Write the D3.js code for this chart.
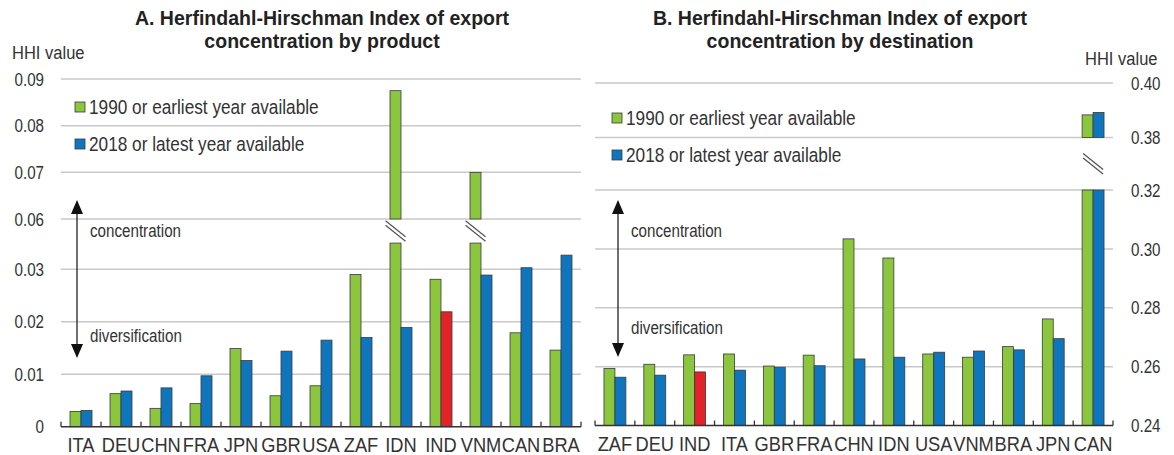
<!DOCTYPE html>
<html>
<head>
<meta charset="utf-8">
<script src="https://cdn.jsdelivr.net/npm/d3@7"></script>
<style>
  body { margin: 0; background: #fff; }
  svg { display: block; font-family: "Liberation Sans", Arial, sans-serif; }
</style>
</head>
<body>
<svg id="chart" width="1174" height="455"></svg>
<script>
// panel A: by product
var catsA = ["ITA", "DEU", "CHN", "FRA", "JPN", "GBR", "USA", "ZAF", "IDN", "IND", "VNM", "CAN", "BRA"];
var earlyA = [0.0029, 0.0063, 0.0035, 0.0044, 0.0149, 0.0059, 0.0078, 0.0290, 0.0875, 0.0281, 0.0700, 0.0179, 0.0146];
var lateA = [0.0031, 0.0068, 0.0074, 0.0097, 0.0126, 0.0144, 0.0165, 0.0170, 0.0189, 0.0219, 0.0289, 0.0303, 0.0327];
var ticksLowA = [0, 0.01, 0.02, 0.03];
var ticksHighA = [0.06, 0.07, 0.08, 0.09];

// panel B: by destination
var catsB = ["ZAF", "DEU", "IND", "ITA", "GBR", "FRA", "CHN", "IDN", "USA", "VNM", "BRA", "JPN", "CAN"];
var earlyB = [0.2594, 0.2608, 0.2640, 0.2643, 0.2602, 0.2639, 0.3034, 0.2969, 0.2643, 0.2632, 0.2668, 0.2762, 0.3883];
var lateB = [0.2564, 0.2571, 0.2582, 0.2588, 0.2598, 0.2603, 0.2626, 0.2632, 0.2649, 0.2653, 0.2657, 0.2695, 0.3892];
var ticksLowB = [0.24, 0.26, 0.28, 0.30, 0.32];
var ticksHighB = [0.38, 0.40];

var seriesNames = ["1990 or earliest year available", "2018 or latest year available"];
var GREEN = "#8cc63f", BLUE = "#0f75bc", RED = "#e2232a";
var NARROW = 0.82; // no narrow font installed, squeeze text horizontally

var svg = d3.select("#chart");

// text with a horizontal squeeze around its anchor point
function label(g, x, y, str, size, o) {
  o = o || {};
  var t = g.append("text")
    .attr("transform", "translate(" + x + "," + y + ") scale(" + (o.sx || NARROW) + ",1)")
    .attr("text-anchor", o.anchor || "start")
    .attr("font-size", size)
    .attr("fill", o.fill || "#333")
    .text(str);
  if (o.dy) t.attr("dy", o.dy);
  if (o.weight) t.attr("font-weight", o.weight);
  return t;
}

function drawPanel(cfg) {
  var g = svg.append("g");

  var x = d3.scaleBand().domain(cfg.cats).range([cfg.x0, cfg.x1]).paddingInner(0.45).paddingOuter(0.225);
  var step = x.step();
  var yLow = d3.scaleLinear().domain(cfg.lowDomain).range([cfg.base, cfg.lowTop]);
  var yHigh = d3.scaleLinear().domain(cfg.highDomain).range([cfg.highBottom, cfg.highTop]);

  // gridlines
  var gridVals = cfg.ticksLow.slice(1).map(function (v) { return yLow(v); })
    .concat(cfg.ticksHigh.map(function (v) { return yHigh(v); }));
  g.selectAll(".grid").data(gridVals).enter().append("line")
    .attr("x1", cfg.x0).attr("x2", cfg.x1)
    .attr("y1", function (d) { return d; }).attr("y2", function (d) { return d; })
    .attr("stroke", "#c9c9c9").attr("stroke-width", 1.5);

  // tick labels
  var tickData = cfg.ticksLow.map(function (v) { return { v: v, y: yLow(v) }; })
    .concat(cfg.ticksHigh.map(function (v) { return { v: v, y: yHigh(v) }; }));
  tickData.forEach(function (d) {
    label(g, cfg.labelX, d.y, cfg.fmt(d.v), 18.5, { anchor: cfg.labelAnchor, dy: "0.36em" });
  });

  label(g, cfg.unitX, cfg.unitY, "HHI value", 19, { sx: 0.87 });

  // bars
  var bw = x.bandwidth() / 2;
  var rows = cfg.cats.map(function (c, i) {
    return [
      { cat: c, v: cfg.early[i], off: 0, color: GREEN },
      { cat: c, v: cfg.late[i], off: bw, color: c === "IND" ? RED : BLUE }
    ];
  });
  var bars = [].concat.apply([], rows);

  function bar(bx, yTop, yBot, color) {
    g.append("rect").attr("x", bx).attr("width", bw)
      .attr("y", yTop).attr("height", yBot - yTop)
      .attr("fill", color).attr("stroke", "#3a3a3a").attr("stroke-width", 0.8);
  }

  bars.forEach(function (b) {
    var bx = x(b.cat) + b.off;
    if (b.v > cfg.highDomain[0]) {
      // broken bar: lower part up to the break, upper part from high axis start
      bar(bx, yLow(cfg.breakAt), cfg.base, b.color);
      bar(bx, yHigh(b.v), cfg.highBottom, b.color);
    } else {
      bar(bx, yLow(b.v), cfg.base, b.color);
    }
  });

  // break marks
  cfg.cats.forEach(function (c, i) {
    var broken = [cfg.early[i], cfg.late[i]].map(function (v) { return v > cfg.highDomain[0]; });
    if (!broken[0] && !broken[1]) return;
    var cx = broken[1] ? x(c) + bw : x(c) + bw / 2;
    var cy = (yLow(cfg.breakAt) + cfg.highBottom) / 2;
    [-2.2, 2.2].forEach(function (o) {
      g.append("line")
        .attr("x1", cx - 10).attr("y1", cy - 8 + o)
        .attr("x2", cx + 10).attr("y2", cy + 8 + o)
        .attr("stroke", "#555").attr("stroke-width", 1.3);
    });
  });

  // x axis
  g.append("line").attr("x1", cfg.x0).attr("x2", cfg.x1)
    .attr("y1", cfg.base).attr("y2", cfg.base)
    .attr("stroke", "#333").attr("stroke-width", 1.5);
  var edges = d3.range(cfg.cats.length + 1).map(function (i) { return cfg.x0 + i * step; });
  g.selectAll(".tk").data(edges).enter().append("line")
    .attr("x1", function (d) { return d; }).attr("x2", function (d) { return d; })
    .attr("y1", cfg.base).attr("y2", cfg.base - 5)
    .attr("stroke", "#333").attr("stroke-width", 1.3);
  cfg.cats.forEach(function (d) {
    label(g, x(d) + x.bandwidth() / 2, cfg.base + 25, d, 21, { anchor: "middle", sx: 0.87 });
  });

  // title
  cfg.title.forEach(function (t, i) {
    label(g, cfg.titleX, 25 + i * 23, t, 21, { anchor: "middle", weight: "bold", sx: 0.93, fill: "#222" });
  });

  // legend
  seriesNames.forEach(function (s, i) {
    var ly = cfg.legendY + i * 37;
    g.append("rect").attr("x", cfg.legendX).attr("y", ly - 5).attr("width", 10).attr("height", 10)
      .attr("fill", i === 0 ? GREEN : BLUE).attr("stroke", "#3a3a3a").attr("stroke-width", 0.8);
    label(g, cfg.legendX + 14, ly, s, 20.5, { dy: "0.35em", sx: 0.84 });
  });

  // concentration / diversification arrow
  var ax = cfg.arrowX;
  g.append("line").attr("x1", ax).attr("x2", ax).attr("y1", cfg.arrowTop + 12).attr("y2", cfg.arrowBottom - 12)
    .attr("stroke", "#222").attr("stroke-width", 1.3);
  g.append("path").attr("d", d3.line()([[ax, cfg.arrowTop], [ax - 6, cfg.arrowTop + 14], [ax + 6, cfg.arrowTop + 14]]) + "Z")
    .attr("fill", "#111");
  g.append("path").attr("d", d3.line()([[ax, cfg.arrowBottom], [ax - 6, cfg.arrowBottom - 14], [ax + 6, cfg.arrowBottom - 14]]) + "Z")
    .attr("fill", "#111");
  label(g, ax + 13, cfg.arrowTop + 31, "concentration", 18.5, { dy: "0.35em" });
  label(g, ax + 13, cfg.divY, "diversification", 18.5, { dy: "0.35em" });
}

drawPanel({
  cats: catsA, early: earlyA, late: lateA,
  x0: 61, x1: 581, base: 426.7, lowTop: 269.3, highBottom: 219, highTop: 79,
  lowDomain: [0, 0.03], highDomain: [0.06, 0.09], breakAt: 0.035,
  ticksLow: ticksLowA, ticksHigh: ticksHighA,
  fmt: function (v) { return v === 0 ? "0" : d3.format(".2f")(v); },
  labelX: 44, labelAnchor: "end", unitX: 12, unitY: 59,
  title: ["A. Herfindahl-Hirschman Index of export", "concentration by product"], titleX: 322,
  legendX: 75, legendY: 107,
  arrowX: 77, arrowTop: 200, arrowBottom: 358, divY: 336
});

drawPanel({
  cats: catsB, early: earlyB, late: lateB,
  x0: 595, x1: 1113, base: 425.5, lowTop: 190, highBottom: 137.5, highTop: 83,
  lowDomain: [0.24, 0.32], highDomain: [0.38, 0.40], breakAt: 0.32,
  ticksLow: ticksLowB, ticksHigh: ticksHighB,
  fmt: d3.format(".2f"),
  labelX: 1131, labelAnchor: "start", unitX: 1085, unitY: 65,
  title: ["B. Herfindahl-Hirschman Index of export", "concentration by destination"], titleX: 840,
  legendX: 612, legendY: 118,
  arrowX: 618, arrowTop: 200, arrowBottom: 357, divY: 328
});
</script>
</body>
</html>
